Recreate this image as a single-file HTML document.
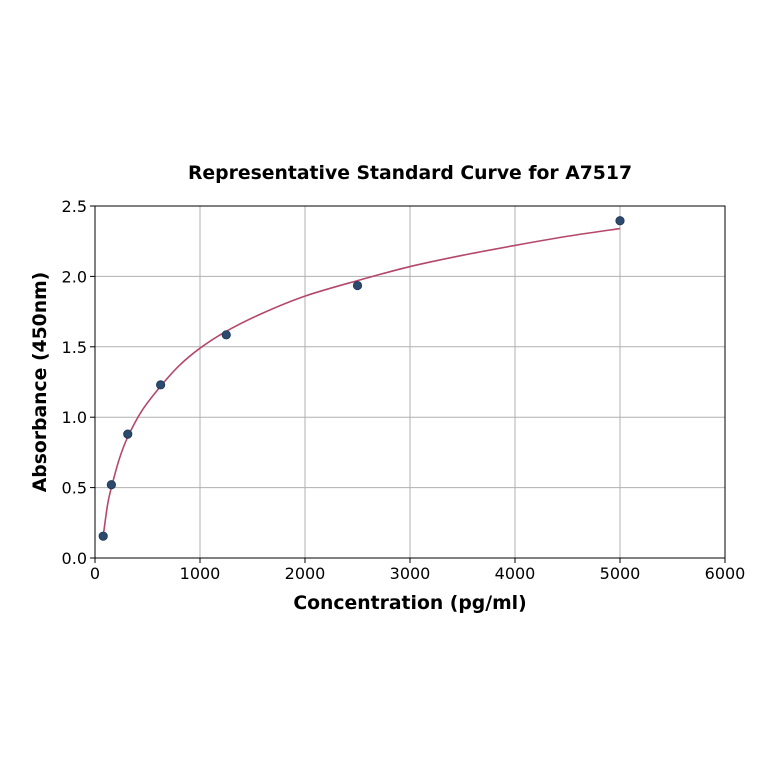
<!DOCTYPE html>
<html><head><meta charset="utf-8"><style>
body{margin:0;background:#fff;}
svg text{font-family:"DejaVu Sans","Liberation Sans",sans-serif;}
</style></head><body>
<svg id="chart" width="764" height="764" xmlns="http://www.w3.org/2000/svg">
<rect width="764" height="764" fill="#fff"/>
<text x="410" y="179" text-anchor="middle" font-size="18.8" font-weight="bold">Representative Standard Curve for A7517</text>
<g id="grid"></g>
<g id="ticks"></g>
<path id="curve" fill="none" stroke="#b5476b" stroke-width="1.6"/>
<g id="points"></g>
<rect x="95" y="206" width="630" height="352" fill="none" stroke="#000" stroke-width="1"/>
<text x="410" y="609" text-anchor="middle" font-size="18.8" font-weight="bold">Concentration (pg/ml)</text>
<text transform="translate(46,382) rotate(-90)" text-anchor="middle" font-size="18.8" font-weight="bold">Absorbance (450nm)</text>
</svg>
<script>
const xTicks=[0,1000,2000,3000,4000,5000,6000];
const yTicks=[0.0,0.5,1.0,1.5,2.0,2.5];
const concentrations=[78,156,312,625,1250,2500,5000];
const absorbances=[0.155,0.52,0.88,1.23,1.585,1.935,2.395];
const fitX=[78,120,156,230,312,450,625,800,1000,1250,1600,2000,2500,3000,3500,4000,4500,5000];
const fitY=[0.155,0.38,0.50,0.70,0.86,1.05,1.22,1.365,1.49,1.61,1.74,1.86,1.97,2.07,2.15,2.22,2.285,2.34];
const L=95,R=725,T=206,B=558;
const sx=v=>L+(R-L)*v/6000, sy=v=>B-(B-T)*v/2.5;
const NS="http://www.w3.org/2000/svg";
const grid=document.getElementById('grid'),ticks=document.getElementById('ticks');
function mk(tag,attrs,parent){const e=document.createElementNS(NS,tag);for(const k in attrs)e.setAttribute(k,attrs[k]);parent.appendChild(e);return e;}
xTicks.forEach(v=>{
 const g=mk('line',{x1:sx(v),x2:sx(v),y1:T,y2:B,stroke:'#b0b0b0','stroke-width':1},grid);
 
 
 const t=mk('line',{x1:sx(v),x2:sx(v),y1:B,y2:B+5,stroke:'#000'},ticks);
 
 
 const l=mk('text',{x:sx(v),y:B+21,'text-anchor':'middle','font-size':16},ticks);l.textContent=v;
 
 
});
yTicks.forEach(v=>{
 const g=mk('line',{x1:L,x2:R,y1:sy(v),y2:sy(v),stroke:'#b0b0b0','stroke-width':1},grid);
 
 
 const t=mk('line',{x1:L-5,x2:L,y1:sy(v),y2:sy(v),stroke:'#000'},ticks);
 
 
 const l=mk('text',{x:L-8,y:sy(v)+6,'text-anchor':'end','font-size':16},ticks);l.textContent=v.toFixed(1);
 
 
});
const P=fitX.map((x,i)=>[sx(x),sy(fitY[i])]);
let d='M'+P[0][0]+','+P[0][1];
for(let i=0;i<P.length-1;i++){
 const p0=P[Math.max(0,i-1)],p1=P[i],p2=P[i+1],p3=P[Math.min(P.length-1,i+2)];
 const c1=[p1[0]+(p2[0]-p0[0])/6,p1[1]+(p2[1]-p0[1])/6];
 const c2=[p2[0]-(p3[0]-p1[0])/6,p2[1]-(p3[1]-p1[1])/6];
 d+=` C${c1[0]},${c1[1]} ${c2[0]},${c2[1]} ${p2[0]},${p2[1]}`;
}
document.getElementById('curve').setAttribute('d',d);
const pts=document.getElementById('points');
concentrations.forEach((c,i)=>{
 const e=mk('circle',{cx:sx(c),cy:sy(absorbances[i]),r:4.2,fill:'#2b4a6e',stroke:'#1d3555','stroke-width':0.8},pts);
 
 
});
</script>
</body></html>
